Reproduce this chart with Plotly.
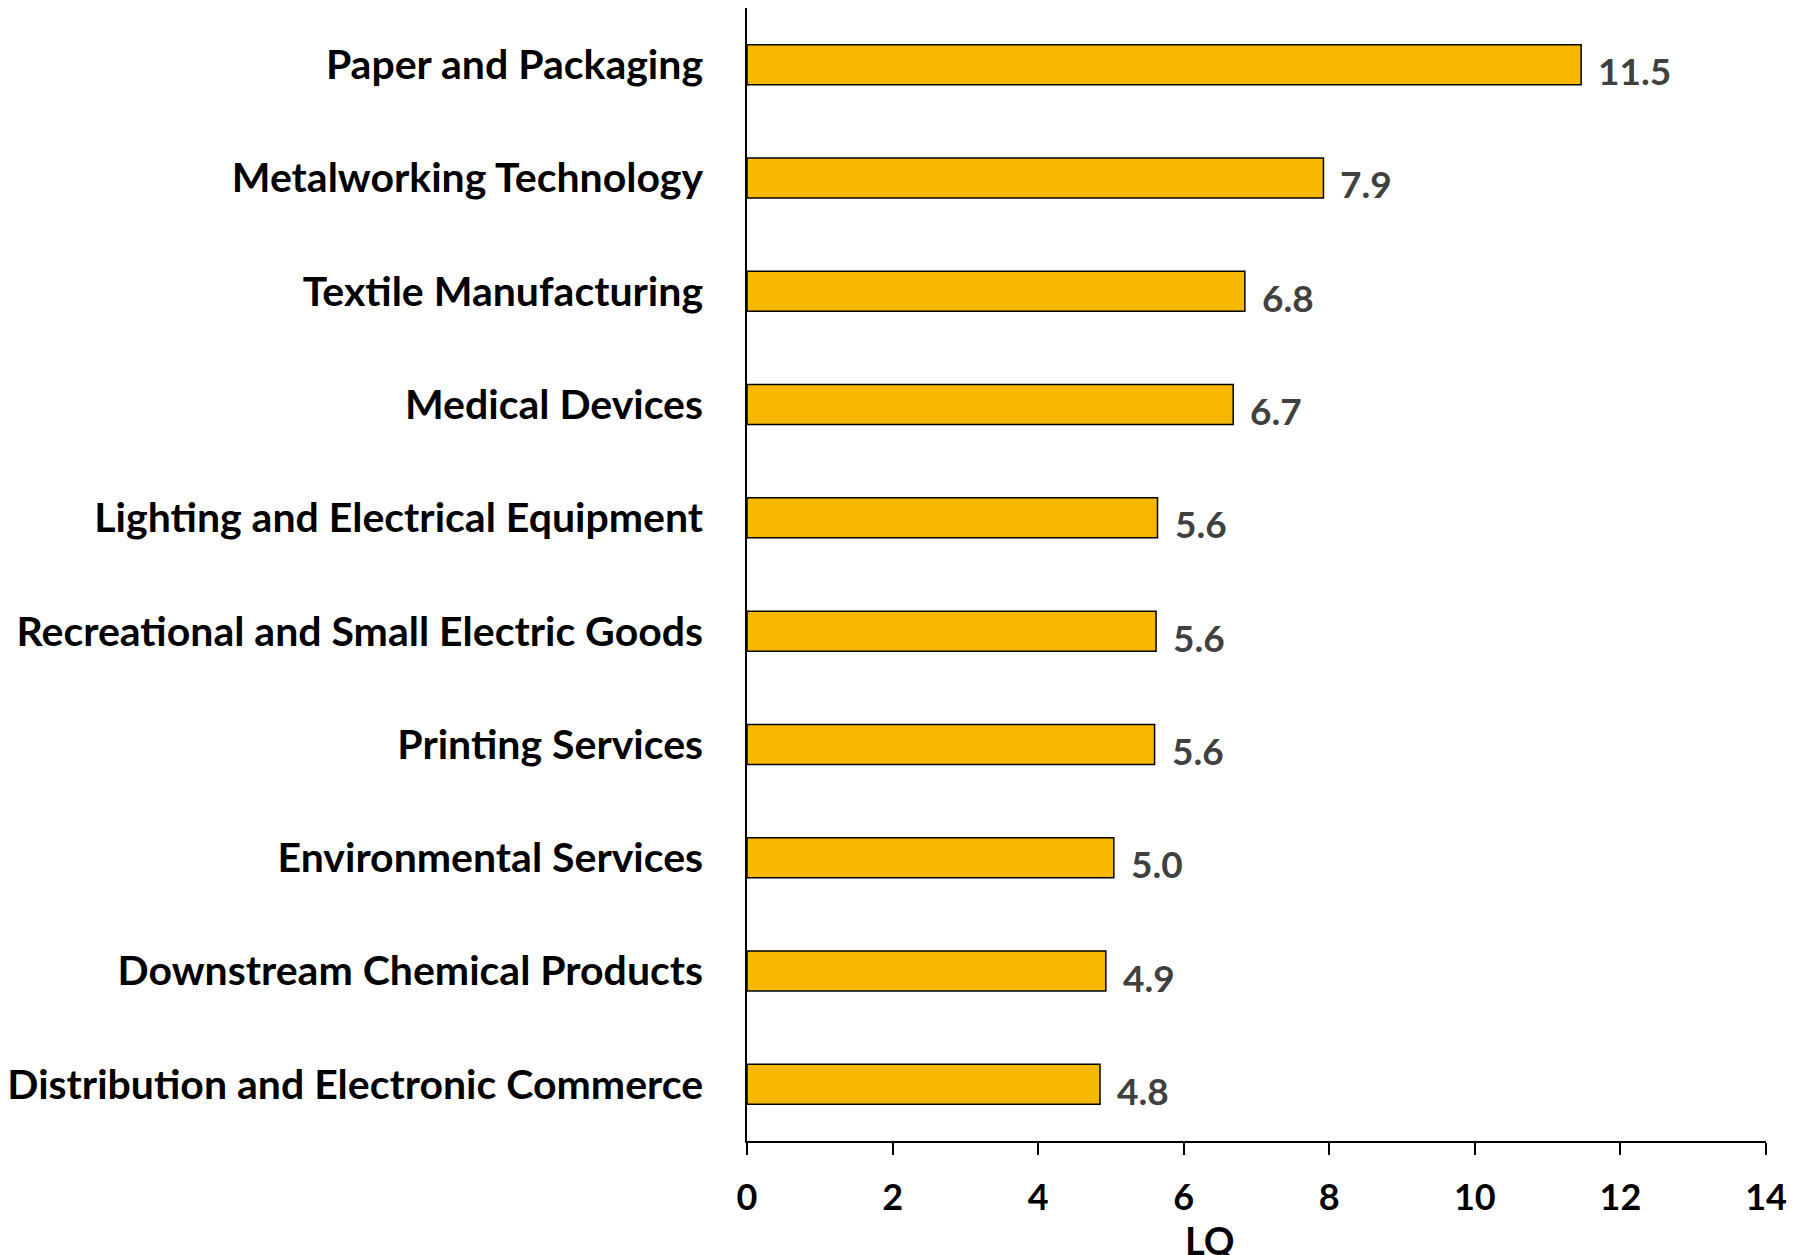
import plotly.graph_objects as go

categories = [
    "Paper and Packaging",
    "Metalworking Technology",
    "Textile Manufacturing",
    "Medical Devices",
    "Lighting and Electrical Equipment",
    "Recreational and Small Electric Goods",
    "Printing Services",
    "Environmental Services",
    "Downstream Chemical Products",
    "Distribution and Electronic Commerce",
]
lq_values = [11.46, 7.92, 6.84, 6.68, 5.64, 5.62, 5.60, 5.04, 4.93, 4.85]
value_labels = ["11.5", "7.9", "6.8", "6.7", "5.6", "5.6", "5.6", "5.0", "4.9", "4.8"]
x_ticks = [0, 2, 4, 6, 8, 10, 12, 14]

fig = go.Figure()
fig.add_trace(go.Bar(
    x=lq_values,
    y=categories,
    orientation="h",
    marker=dict(color="#F9B800", line=dict(color="#000000", width=1.5)),
    hoverinfo="x+y",
))

for v, c, t in zip(lq_values, categories, value_labels):
    fig.add_annotation(
        x=v, y=c, xref="x", yref="y", text=t, showarrow=False,
        xanchor="left", yanchor="middle", xshift=15, yshift=-6,
        font=dict(family="Lato", size=37, color="#404040", weight="bold"),
    )

fig.add_annotation(
    x=0.454, y=0, xref="paper", yref="paper", text="LQ", showarrow=False,
    xanchor="center", yanchor="top", yshift=-74,
    font=dict(family="Lato", size=38, color="#000000", weight="bold"),
)

fig.update_layout(
    width=1798, height=1247,
    margin=dict(l=739, r=40, t=0, b=114),
    paper_bgcolor="white", plot_bgcolor="white",
    bargap=0.647,
    showlegend=False,
    font=dict(family="Lato", color="#000000"),
)
fig.update_xaxes(
    range=[0, 14], tickvals=x_ticks, showgrid=False, zeroline=False,
    showline=True, linecolor="#000000", linewidth=1.5,
    ticks="outside", ticklen=12, tickwidth=1.5, tickcolor="#000000",
    tickfont=dict(family="Lato", size=36, color="#000000", weight="bold"),
    ticklabelstandoff=12,
)
fig.update_yaxes(
    categoryorder="array", categoryarray=categories, autorange="reversed",
    range=[9.5, -0.5],
    showgrid=False, zeroline=False,
    showline=True, linecolor="#000000", linewidth=1.5,
    ticks="", ticklabelstandoff=34,
    tickfont=dict(family="Lato", size=41, color="#000000", weight="bold"),
)

fig.write_html("out.html")
